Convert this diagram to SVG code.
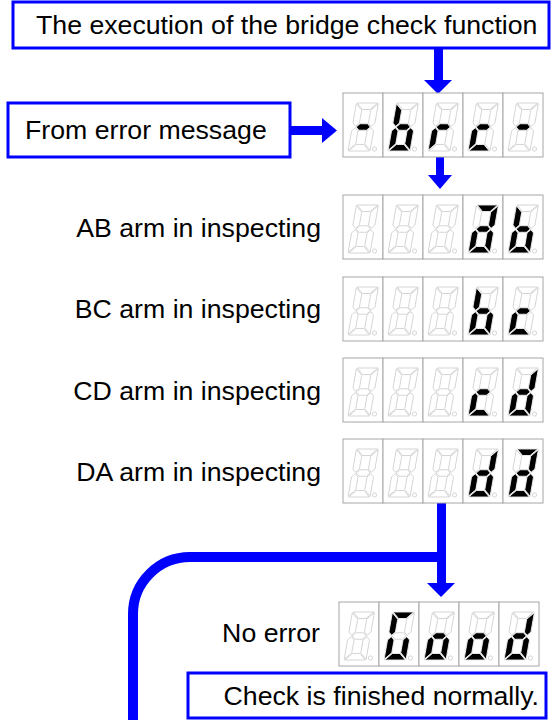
<svg xmlns="http://www.w3.org/2000/svg" xmlns:xlink="http://www.w3.org/1999/xlink" width="552" height="720" viewBox="0 0 552 720">
<style>
text{font-family:"Liberation Sans",Arial,sans-serif;font-size:26.7px;fill:#000}
.box{fill:#fff;stroke:#0000ff;stroke-width:3}
.cellr{fill:#fff;stroke:#a6a6a6;stroke-width:1}
.off{fill:#fff;stroke:#cccccc;stroke-width:0.8}
.on{fill:#000;stroke:#fff;stroke-width:0.8}
.arr{fill:#0000ff}
.line{fill:none;stroke:#0000ff;stroke-width:10}
</style>
<defs>
<polygon id="sa" points="0.7,-48 21.3,-48 14.8,-41.5 7.2,-41.5"/>
<polygon id="sb" points="22,-47.3 15.5,-40.8 15.5,-27.95 18.75,-24.7 22,-27.95"/>
<polygon id="sc" points="22,-0.7 15.5,-7.2 15.5,-20.05 18.75,-23.3 22,-20.05"/>
<polygon id="sd" points="0.7,0 21.3,0 14.8,-6.5 7.2,-6.5"/>
<polygon id="se" points="0,-0.7 6.5,-7.2 6.5,-20.05 3.25,-23.3 0,-20.05"/>
<polygon id="sf" points="0,-47.3 6.5,-40.8 6.5,-27.95 3.25,-24.7 0,-27.95"/>
<polygon id="sg" points="3.95,-24 7.2,-27.25 14.8,-27.25 18.05,-24 14.8,-20.75 7.2,-20.75"/>
<g id="cell">
<rect class="cellr" x="0" y="0" width="40" height="64"/>
<g class="off" transform="translate(5,58) skewX(-10)">
<use xlink:href="#sa"/><use xlink:href="#sb"/><use xlink:href="#sc"/><use xlink:href="#sd"/><use xlink:href="#se"/><use xlink:href="#sf"/><use xlink:href="#sg"/>
</g>
<circle class="off" cx="31.5" cy="56" r="2.1"/>
</g>
<g id="disp">
<use xlink:href="#cell" x="0"/><use xlink:href="#cell" x="40"/><use xlink:href="#cell" x="80"/><use xlink:href="#cell" x="120"/><use xlink:href="#cell" x="160"/>
</g>
</defs>

<g id="connectors">
<rect class="arr" x="434" y="48" width="9" height="33"/>
<polygon class="arr" points="424,80 452,80 438,94"/>
<rect class="arr" x="290" y="126" width="33" height="9"/>
<polygon class="arr" points="322,118 322,143 337,130.5"/>
<rect class="arr" x="436" y="157" width="8" height="19"/>
<polygon class="arr" points="428,175 452,175 440,189"/>
<rect class="arr" x="437" y="503" width="9" height="81"/>
<polygon class="arr" points="427,583 455,583 441,597"/>
<path class="line" d="M437 557 H190 A57 57 0 0 0 133 614 V722"/>
</g>

<g id="node-start">
<rect class="box" x="13" y="2" width="536" height="46"/>
<text x="36" y="34">The execution of the bridge check function</text>
</g>

<g id="node-error">
<rect class="box" x="8" y="103" width="282" height="54"/>
<text x="25" y="139">From error message</text>
</g>

<g id="node-brc">
<use xlink:href="#disp" x="343" y="93"/>
<g class="on">
<g transform="translate(348,151) skewX(-10)"><use xlink:href="#sg"/></g>
<g transform="translate(388,151) skewX(-10)"><use xlink:href="#sf"/><use xlink:href="#se"/><use xlink:href="#sd"/><use xlink:href="#sc"/><use xlink:href="#sg"/></g>
<g transform="translate(428,151) skewX(-10)"><use xlink:href="#se"/><use xlink:href="#sg"/></g>
<g transform="translate(468,151) skewX(-10)"><use xlink:href="#se"/><use xlink:href="#sd"/><use xlink:href="#sg"/></g>
<g transform="translate(508,151) skewX(-10)"><use xlink:href="#sg"/></g>
</g>
</g>

<g id="node-ab">
<text x="321" y="236.5" text-anchor="end">AB arm in inspecting</text>
<use xlink:href="#disp" x="343" y="195"/>
<g class="on">
<g transform="translate(468,253) skewX(-10)"><use xlink:href="#sa"/><use xlink:href="#sb"/><use xlink:href="#sc"/><use xlink:href="#sd"/><use xlink:href="#se"/><use xlink:href="#sg"/></g>
<g transform="translate(508,253) skewX(-10)"><use xlink:href="#sf"/><use xlink:href="#se"/><use xlink:href="#sd"/><use xlink:href="#sc"/><use xlink:href="#sg"/></g>
</g>
</g>

<g id="node-bc">
<text x="321" y="318" text-anchor="end">BC arm in inspecting</text>
<use xlink:href="#disp" x="343" y="277"/>
<g class="on">
<g transform="translate(468,335) skewX(-10)"><use xlink:href="#sf"/><use xlink:href="#se"/><use xlink:href="#sd"/><use xlink:href="#sc"/><use xlink:href="#sg"/></g>
<g transform="translate(508,335) skewX(-10)"><use xlink:href="#se"/><use xlink:href="#sd"/><use xlink:href="#sg"/></g>
</g>
</g>

<g id="node-cd">
<text x="321" y="399.5" text-anchor="end">CD arm in inspecting</text>
<use xlink:href="#disp" x="343" y="358"/>
<g class="on">
<g transform="translate(468,416) skewX(-10)"><use xlink:href="#se"/><use xlink:href="#sd"/><use xlink:href="#sg"/></g>
<g transform="translate(508,416) skewX(-10)"><use xlink:href="#sb"/><use xlink:href="#sc"/><use xlink:href="#sd"/><use xlink:href="#se"/><use xlink:href="#sg"/></g>
</g>
</g>

<g id="node-da">
<text x="321" y="480.5" text-anchor="end">DA arm in inspecting</text>
<use xlink:href="#disp" x="343" y="439"/>
<g class="on">
<g transform="translate(468,497) skewX(-10)"><use xlink:href="#sb"/><use xlink:href="#sc"/><use xlink:href="#sd"/><use xlink:href="#se"/><use xlink:href="#sg"/></g>
<g transform="translate(508,497) skewX(-10)"><use xlink:href="#sa"/><use xlink:href="#sb"/><use xlink:href="#sc"/><use xlink:href="#sd"/><use xlink:href="#se"/><use xlink:href="#sg"/></g>
</g>
</g>

<g id="node-good">
<text x="320" y="642" text-anchor="end">No error</text>
<use xlink:href="#disp" x="339" y="602"/>
<g class="on">
<g transform="translate(384,660) skewX(-10)"><use xlink:href="#sa"/><use xlink:href="#sf"/><use xlink:href="#se"/><use xlink:href="#sd"/><use xlink:href="#sc"/></g>
<g transform="translate(424,660) skewX(-10)"><use xlink:href="#sg"/><use xlink:href="#se"/><use xlink:href="#sd"/><use xlink:href="#sc"/></g>
<g transform="translate(464,660) skewX(-10)"><use xlink:href="#sg"/><use xlink:href="#se"/><use xlink:href="#sd"/><use xlink:href="#sc"/></g>
<g transform="translate(504,660) skewX(-10)"><use xlink:href="#sb"/><use xlink:href="#sc"/><use xlink:href="#sd"/><use xlink:href="#se"/><use xlink:href="#sg"/></g>
</g>
</g>

<g id="node-finished">
<rect class="box" x="188" y="673" width="358" height="45"/>
<text x="539" y="705" text-anchor="end">Check is finished normally.</text>
</g>
</svg>
